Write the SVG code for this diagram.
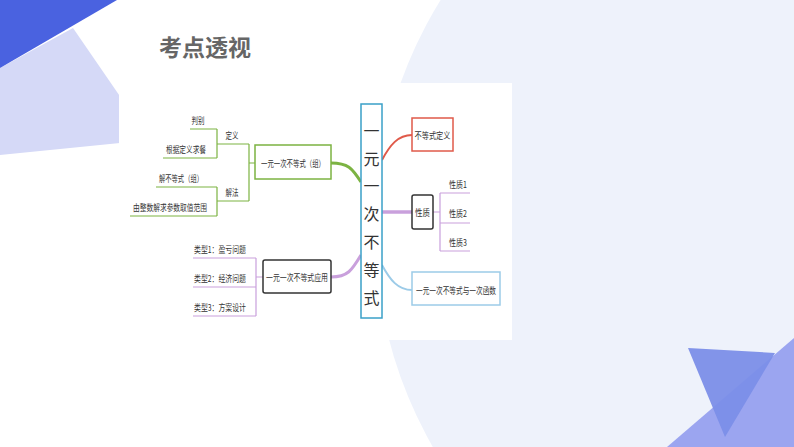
<svg xmlns="http://www.w3.org/2000/svg" width="794" height="447" viewBox="0 0 794 447">
<style>
text{font-family:"Noto Sans CJK SC","Liberation Sans",sans-serif;fill:#333;font-size:9px;text-anchor:middle;dominant-baseline:central}
.c{fill:#333;font-size:16px}
.g{stroke:#7cb342;stroke-width:1.2;fill:none}
.p{stroke:#c9a0dc;stroke-width:1.2;fill:none}
.box{fill:#fff;stroke-width:1.5}
</style>
<rect width="794" height="447" fill="#fff"/>
<circle cx="811" cy="230" r="436" fill="#eef2fb"/>
<polygon points="0,68 73,28 150,140 0,155" fill="#d5d9f7"/>
<polygon points="0,0 117,0 0,68" fill="#4a62e0"/>
<polygon points="667,447 794,338 794,447" fill="#9ba5f0"/>
<polygon points="688,348 775,353 725,437" fill="#7b8ee8" fill-opacity="0.95"/>
<rect x="119" y="83" width="393" height="257" fill="#fff"/>
<text x="205" y="46" style="font-size:23px;font-weight:bold;fill:#666">考点透视</text>
<g id="connectors">
<path d="M331,163 C348,163 352,168 361,182" stroke="#7cb342" stroke-width="3" fill="none"/>
<path d="M331,277 C348,277 352,270 361,255" stroke="#c9a0dc" stroke-width="3" fill="none"/>
<path d="M382,160 C390,145 398,135 412,135" stroke="#e05a4a" stroke-width="2" fill="none"/>
<path d="M382,212 H412" stroke="#c9a0dc" stroke-width="3.5"/>
<path d="M382,265 C390,280 398,290 412,290" stroke="#9ccbe8" stroke-width="2" fill="none"/>
<path class="g" d="M249,163 H255 M249,144 V201 M217,144 H249 M217,201 H249 M217,129 V158 M190,129 H217 M163,158 H217 M217,187 V216 M156,187 H217 M130,216 H217"/>
<path class="p" d="M256,277 H263 M256,258 V316 M193,258 H256 M193,287 H256 M193,316 H256"/>
<path class="p" d="M433,212 H440 M440,193 V251 M440,193 H470 M440,223 H470 M440,251 H470"/>
</g>
<g id="center"><rect x="361" y="104" width="21" height="214" class="box" stroke="#3aa0c8" stroke-width="3"/>
<text class="c" x="371.5" y="130">一</text><text class="c" x="371.5" y="158">元</text><text class="c" x="371.5" y="185">一</text><text class="c" x="371.5" y="213">次</text><text class="c" x="371.5" y="241">不</text><text class="c" x="371.5" y="269">等</text><text class="c" x="371.5" y="297">式</text></g>
<g id="n-def"><rect x="412" y="118" width="41" height="33" class="box" stroke="#e05a4a"/><text x="432.5" y="135" textLength="36" lengthAdjust="spacingAndGlyphs">不等式定义</text></g>
<g id="n-xz"><rect x="412" y="195" width="21" height="34" rx="2" class="box" stroke="#333"/><text x="422.5" y="212" textLength="15" lengthAdjust="spacingAndGlyphs">性质</text></g>
<g id="n-xz1"><text x="458" y="184" textLength="18" lengthAdjust="spacingAndGlyphs">性质1</text></g>
<g id="n-xz2"><text x="458" y="213" textLength="18" lengthAdjust="spacingAndGlyphs">性质2</text></g>
<g id="n-xz3"><text x="458" y="242" textLength="18" lengthAdjust="spacingAndGlyphs">性质3</text></g>
<g id="n-fn"><rect x="412" y="272" width="88" height="33" class="box" stroke="#9ccbe8"/><text x="456" y="290" textLength="80" lengthAdjust="spacingAndGlyphs">一元一次不等式与一次函数</text></g>
<g id="n-group"><rect x="255" y="145" width="76" height="34" class="box" stroke="#7cb342"/><text x="293" y="163" textLength="64" lengthAdjust="spacingAndGlyphs">一元一次不等式（组）</text></g>
<g id="n-dy"><text x="232" y="135" textLength="13" lengthAdjust="spacingAndGlyphs">定义</text></g>
<g id="n-pb"><text x="198" y="120" textLength="13" lengthAdjust="spacingAndGlyphs">判别</text></g>
<g id="n-gj"><text x="186" y="149" textLength="40" lengthAdjust="spacingAndGlyphs">根据定义求餐</text></g>
<g id="n-jf"><text x="232" y="192" textLength="13" lengthAdjust="spacingAndGlyphs">解法</text></g>
<g id="n-jbd"><text x="181" y="178" textLength="44" lengthAdjust="spacingAndGlyphs">解不等式（组）</text></g>
<g id="n-zs"><text x="170" y="207" textLength="74" lengthAdjust="spacingAndGlyphs">由整数解求参数取值范围</text></g>
<g id="n-app"><rect x="263" y="260" width="68" height="33" rx="2" class="box" stroke="#333"/><text x="297" y="277" textLength="62" lengthAdjust="spacingAndGlyphs">一元一次不等式应用</text></g>
<g id="n-t1"><text x="220" y="249" textLength="52" lengthAdjust="spacingAndGlyphs">类型1：盈亏问题</text></g>
<g id="n-t2"><text x="220" y="278" textLength="52" lengthAdjust="spacingAndGlyphs">类型2：经济问题</text></g>
<g id="n-t3"><text x="220" y="307" textLength="52" lengthAdjust="spacingAndGlyphs">类型3：方案设计</text></g>
</svg>
